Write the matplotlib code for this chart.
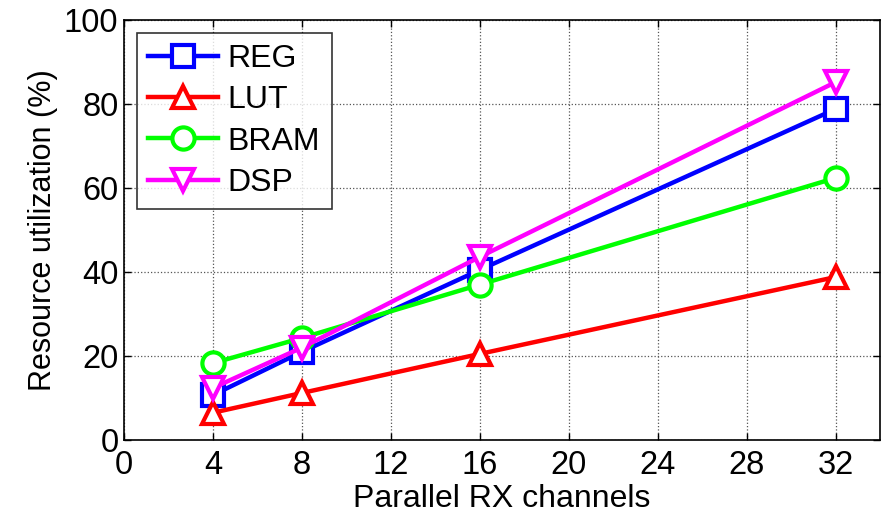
import matplotlib
matplotlib.use("Agg")
import matplotlib.pyplot as plt

channels = [4, 8, 16, 32]
reg = [10.7, 21.0, 40.5, 78.8]
lut = [6.5, 11.2, 20.5, 38.8]
bram = [18.3, 24.3, 37.0, 62.4]
dsp = [12.4, 22.0, 43.6, 85.2]
xticks = [0, 4, 8, 12, 16, 20, 24, 28, 32]
yticks = [0, 20, 40, 60, 80, 100]

plt.rcParams['font.family'] = ['Liberation Sans', 'DejaVu Sans']

fig = plt.figure(figsize=(8.83, 5.2), dpi=100)
ax = fig.add_axes([0.1404, 0.1538, 0.8562, 0.8077])

kw = dict(linewidth=3.2, markersize=16, markeredgewidth=3, markerfacecolor='white')
ax.plot(channels, reg, '-s', color='#0000ff', label='REG', **kw)
ax.plot(channels, lut, '-^', color='#ff0000', label='LUT', **kw)
ax.plot(channels, bram, '-o', color='#00ff00', label='BRAM', **kw)
ax.plot(channels, dsp, '-v', color='#ff00ff', label='DSP', **kw)

ax.set_xlim(0, 34)
ax.set_ylim(0, 100)
ax.set_xticks(xticks)
ax.set_yticks(yticks)
ax.tick_params(direction='in', length=5, width=1, top=True, right=True, labelsize=23.5, pad=4)
ax.tick_params(axis='x', pad=7)
ax.grid(True, linestyle=':', color='#555555', linewidth=0.9)
for s in ax.spines.values():
    s.set_linewidth(1.2)
ax.set_xlabel('Parallel RX channels', fontsize=23, labelpad=2)
ax.set_ylabel('Resource utilization (%)', fontsize=22, labelpad=4)

leg = ax.legend(loc='upper left', bbox_to_anchor=(0.017, 0.969), fontsize=23, frameon=True,
                fancybox=False, edgecolor='black', handlelength=2.2, handletextpad=0.3,
                borderpad=0.35, labelspacing=0.35, borderaxespad=0)
leg.get_frame().set_linewidth(1.2)

fig.savefig('out.png', dpi=100)
